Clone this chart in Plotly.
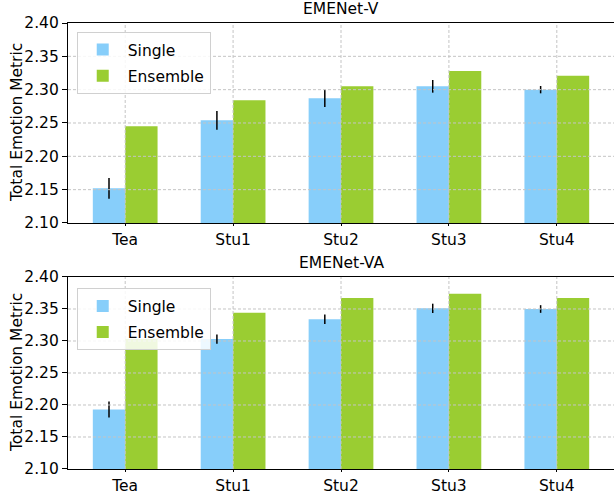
import plotly.graph_objects as go
from plotly.subplots import make_subplots

categories = ["Tea", "Stu1", "Stu2", "Stu3", "Stu4"]
titles = ["EMENet-V", "EMENet-VA"]
ylabel = "Total Emotion Metric"

v_single = [2.152, 2.254, 2.287, 2.305, 2.300]
v_single_err = [0.0155, 0.014, 0.013, 0.0095, 0.0055]
v_ensemble = [2.245, 2.284, 2.305, 2.328, 2.321]

va_single = [2.193, 2.303, 2.334, 2.351, 2.350]
va_single_err = [0.0125, 0.0073, 0.0073, 0.0073, 0.006]
va_ensemble = [2.303, 2.344, 2.367, 2.374, 2.367]

yticks = [2.10, 2.15, 2.20, 2.25, 2.30, 2.35, 2.40]
ytick_text = ["%.2f" % v for v in yticks]

SINGLE_COLOR = "#87CEFA"
ENS_COLOR = "#9ACD32"
FONT = "DejaVu Sans"
FS = 15.5

fig = make_subplots(rows=2, cols=1, vertical_spacing=0.12)

xpos = list(range(len(categories)))
panels = [(v_single, v_single_err, v_ensemble), (va_single, va_single_err, va_ensemble)]
for i, (s, se, e) in enumerate(panels):
    row = i + 1
    leg = "legend" if i == 0 else "legend2"
    fig.add_trace(go.Bar(x=xpos, y=s, name="Single", marker_color=SINGLE_COLOR,
                         marker_line_width=0, legend=leg, legendgroup="s%d" % i,
                         error_y=dict(type="data", array=se, color="black",
                                      thickness=1.5, width=0)),
                  row=row, col=1)
    fig.add_trace(go.Bar(x=xpos, y=e, name="Ensemble", marker_color=ENS_COLOR,
                         marker_line_width=0, legend=leg, legendgroup="e%d" % i),
                  row=row, col=1)

for i in range(2):
    xa = "xaxis" if i == 0 else "xaxis2"
    ya = "yaxis" if i == 0 else "yaxis2"
    xref = "x" if i == 0 else "x2"
    yref = "y" if i == 0 else "y2"
    dom = [0.5516, 1.0] if i == 0 else [0.0, 0.4305]
    fig.update_layout({
        xa: dict(range=[-0.53, 4.53], tickmode="array", tickvals=xpos, ticktext=categories,
                 showgrid=False, zeroline=False, showline=True, mirror=True,
                 linecolor="black", linewidth=1.2, ticks="outside", ticklen=2,
                 tickcolor="black", tickfont=dict(family=FONT, size=FS, color="black"),
                 automargin=False, domain=[0, 1]),
        ya: dict(range=[2.10, 2.40], tickmode="array", tickvals=yticks, ticktext=ytick_text,
                 showgrid=False, zeroline=False, showline=True, mirror=False,
                 linecolor="black", linewidth=1.2, ticks="outside", ticklen=5,
                 tickcolor="black", tickfont=dict(family=FONT, size=FS, color="black"),
                 automargin=False, domain=dom),
    })
    # grid lines drawn above bars, at tick positions
    for yv in yticks[1:-1]:
        fig.add_shape(type="line", xref=xref + " domain", yref=yref, x0=0, x1=1, y0=yv, y1=yv,
                      line=dict(color="#c4c4c4", width=1, dash="3px,2px"), layer="above")
    for xv in xpos:
        fig.add_shape(type="line", xref=xref, yref=yref + " domain", x0=xv, x1=xv, y0=0, y1=1,
                      line=dict(color="#c4c4c4", width=1, dash="3px,2px"), layer="above")
    fig.add_annotation(text=titles[i], xref=xref + " domain", yref=yref + " domain",
                       x=0.5, y=1.0, yshift=3, xanchor="center", yanchor="bottom",
                       showarrow=False, font=dict(family=FONT, size=FS, color="black"))
    fig.add_annotation(text=ylabel, xref="paper", yref=yref + " domain",
                       x=0, xshift=-51, y=0.5, xanchor="center", yanchor="middle",
                       textangle=-90, showarrow=False,
                       font=dict(family=FONT, size=FS, color="black"))

legend_common = dict(bgcolor="rgba(255,255,255,0.85)", bordercolor="#d0d0d0", borderwidth=1,
                     font=dict(family=FONT, size=FS, color="black"), xanchor="left",
                     yanchor="top", tracegroupgap=3, itemwidth=40)
fig.update_layout(
    legend=dict(x=0.016, y=0.98, **legend_common),
    legend2=dict(x=0.016, y=0.405, **legend_common),
)

fig.update_layout(
    width=615, height=495,
    margin=dict(l=68, r=1, t=23, b=26, autoexpand=False),
    barmode="group", bargap=0.4, bargroupgap=0.0,
    plot_bgcolor="white", paper_bgcolor="white",
    font=dict(family=FONT, size=FS, color="black"),
    showlegend=True,
)

fig.write_html("out.html", config={"displayModeBar": False},
               post_script="document.body.style.margin='0';document.body.style.overflow='hidden';")
